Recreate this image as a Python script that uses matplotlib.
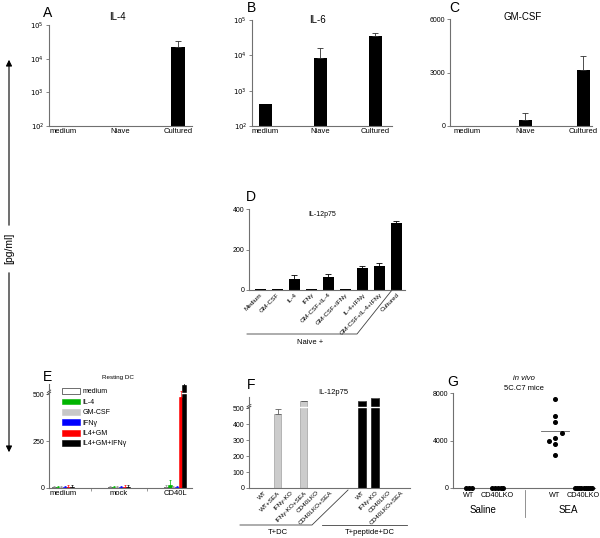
import numpy as np
import matplotlib
matplotlib.use("Agg")
import matplotlib.pyplot as plt
from matplotlib.lines import Line2D
from matplotlib.patches import FancyArrowPatch, Patch

plt.rcParams['font.family'] = ['Liberation Sans', 'DejaVu Sans']

W, H = 600, 538

# ---- data ----
abc_groups = ["medium", "Niave", "Cultured"]
il4_mean = [100, 100, 22000]
il4_upper = [100, 100, 33000]
il6_mean = [420, 8200, 35000]
il6_upper = [420, 16000, 42000]
gmcsf_mean = [20, 340, 3140]
gmcsf_upper = [20, 730, 3930]

d_labels = ["Medium", "GM-CSF", "IL-4", "IFN\u03b3", "GM-CSF+IL-4", "GM-CSF+IFN\u03b3",
            "IL-4+IFN\u03b3", "GM-CSF+IL-4+IFN\u03b3", "Cultured"]
d_mean = [3, 3, 56, 3, 63, 3, 107, 118, 329]
d_upper = [4, 4, 74, 4, 79, 4, 118, 133, 339]

e_groups = ["medium", "mock", "CD40L"]
e_series = ["medium", "IL-4", "GM-CSF", "IFN\u03b3", "IL4+GM", "IL4+GM+IFN\u03b3"]
e_colors = ["white", "#00b400", "#c8c8c8", "#0000ff", "#ff0000", "black"]
e_mean = [[5, 5, 6],
          [5, 5, 16],
          [5, 5, 5],
          [5, 5, 5],
          [6, 6, 485],
          [6, 6, 550]]
e_err = [[8, 8, 8],
         [8, 8, 26],
         [6, 6, 6],
         [6, 6, 6],
         [8, 8, 35],
         [8, 8, 10]]

f_labels = ["WT", "WT+SEA", "IFN\u03b3-KO", "IFN\u03b3-KO+SEA", "CD40LKO", "CD40LKO+SEA",
            "WT", "IFN\u03b3-KO", "CD40LKO", "CD40LKO+SEA"]
f_mean = [0, 462, 0, 543, 0, 0, 543, 562, 0, 0]
f_upper = [0, 493, 0, 548, 0, 0, 546, 565, 0, 0]

g_labels = ["WT", "CD40LKO", "WT", "CD40LKO"]
g_saline_wt = [0, 0, 0]
g_saline_ko = [0, 0, 0, 0, 0]
g_sea_wt = [7470, 6080, 5580, 4600, 4180, 3960, 3740, 2760]
g_sea_ko = [0, 0, 0, 0, 0, 0, 0, 0, 0]

fig = plt.figure(figsize=(W / 100, H / 100), dpi=100)
fig.patch.set_facecolor('white')

SPINE = '#707070'


def fx(x):
    return x / W


def fy(y):
    return 1 - y / H


def add_ax(x0, y0, x1, y1):
    ax = fig.add_axes([fx(x0), fy(y1), (x1 - x0) / W, (y1 - y0) / H])
    for s in ['top', 'right']:
        ax.spines[s].set_visible(False)
    for s in ['left', 'bottom']:
        ax.spines[s].set_color(SPINE)
        ax.spines[s].set_linewidth(0.8)
    ax.tick_params(axis='y', length=2.5, width=0.6, color=SPINE, labelsize=5, pad=1)
    ax.tick_params(axis='x', length=0, labelsize=5.5, pad=1.5)
    ax.set_facecolor('none')
    return ax


def ftext(x, y, s, **kw):
    fig.text(fx(x), fy(y), s, ha=kw.pop('ha', 'center'), va=kw.pop('va', 'center'), **kw)


def fline(xs, ys, **kw):
    fig.add_artist(Line2D([fx(v) for v in xs], [fy(v) for v in ys],
                          color=kw.pop('color', '#404040'), lw=kw.pop('lw', 0.6), **kw))


def err_up(ax, x, mean, upper, color='black'):
    mean = np.asarray(mean, float)
    upper = np.asarray(upper, float)
    keep = upper > mean
    if keep.any():
        ax.errorbar(np.asarray(x)[keep], mean[keep],
                    yerr=[np.zeros(keep.sum()), (upper - mean)[keep]],
                    fmt='none', ecolor=color, elinewidth=0.6, capsize=2, capthick=0.6)


def break_marks(ax, yval, bars_x, width, ymax):
    # white gap across tall bars and slashes on the y axis
    frac = yval / ymax
    ax.plot([-0.012, 0.012], [frac - 0.012, frac + 0.012], transform=ax.transAxes,
            color='#404040', lw=0.6, clip_on=False)
    ax.plot([-0.012, 0.012], [frac + 0.008, frac + 0.032], transform=ax.transAxes,
            color='#404040', lw=0.6, clip_on=False)
    for bx in bars_x:
        ax.plot([bx - width / 2, bx + width / 2], [yval, yval], color='white', lw=1.0)


# ---- A: IL-4 ----
x3 = np.arange(3)
log_ticks = [1e2, 1e3, 1e4, 1e5]
log_lbls = ['$10^2$', '$10^3$', '$10^4$', '$10^5$']


def log_panel(ax, mean, upper):
    ax.set_yscale('log')
    ax.set_ylim(1e2, 1e5)
    h = np.asarray(mean, float) - 100
    ax.bar(x3, h, bottom=100, width=0.24, color='black')
    err_up(ax, x3, mean, upper, color='#303030')
    ax.set_yticks(log_ticks)
    ax.set_yticklabels(log_lbls)
    ax.minorticks_off()
    ax.set_xticks(x3)
    ax.set_xticklabels(abc_groups)


axA = add_ax(49, 25, 192, 126)
log_panel(axA, il4_mean, il4_upper)
axA.set_xlim(-0.25, 2.25)
ftext(117, 17, "IL-4", fontsize=7)
ftext(48, 13, "A", fontsize=10)

axB = add_ax(252, 20, 392, 126)
log_panel(axB, il6_mean, il6_upper)
axB.set_xlim(-0.24, 2.3)
ftext(318, 20, "IL-6", fontsize=7)
ftext(252, 8, "B", fontsize=10)

axC = add_ax(450, 19, 592, 126)
axC.bar(x3, gmcsf_mean, width=0.23, color='black')
err_up(axC, x3, gmcsf_mean, gmcsf_upper, color='#303030')
axC.set_ylim(0, 6000)
axC.set_yticks([0, 3000, 6000])
axC.set_xticks(x3)
axC.set_xticklabels(abc_groups)
axC.set_xlim(-0.3, 2.15)
ftext(523, 17, "GM-CSF", fontsize=7)
ftext(454, 8, "C", fontsize=10)

# ---- D: IL-12p75 naive ----
xd = np.arange(len(d_labels))
axD = add_ax(249, 209, 405, 290)
axD.bar(xd, d_mean, width=0.65, color='black')
err_up(axD, xd, d_mean, d_upper)
axD.set_ylim(0, 400)
axD.set_yticks([0, 200, 400])
axD.set_xlim(-0.65, 8.5)
axD.set_xticks(xd)
axD.set_xticklabels(d_labels, rotation=45, ha='right', rotation_mode='anchor', fontsize=4.6)
ftext(322, 214, "IL-12p75", fontsize=5)
ftext(251, 197, "D", fontsize=10)
fline([247, 357, 392], [334, 334, 290])
ftext(310, 342, "Naive +", fontsize=5.5)

# ---- E: resting DC ----
axE = add_ax(49, 384, 192, 488)
n_s = len(e_series)
bw = 0.39 / n_s
for i in range(n_s):
    xs = np.arange(3) + (i - (n_s - 1) / 2) * bw
    ec = 'black' if i == 0 else e_colors[i]
    axE.bar(xs, e_mean[i], width=bw, color=e_colors[i], edgecolor=ec, linewidth=0.4,
            label=e_series[i])
    ecol = '#909090' if i in (0, 2) else e_colors[i]
    axE.errorbar(xs, e_mean[i], yerr=[np.zeros(3), e_err[i]], fmt='none',
                 ecolor=ecol, elinewidth=0.5, capsize=1, capthick=0.5)
axE.set_ylim(0, 555)
axE.set_yticks([0, 250, 500])
axE.set_xlim(-0.25, 2.3)
axE.set_xticks(np.arange(3))
axE.set_xticklabels(e_groups)
axE.set_xticks([0.5, 1.5], minor=True)
axE.tick_params(axis='x', which='minor', length=2, width=0.5, color=SPINE)
break_marks(axE, 505, [2 + 2.5 * bw], bw, 555)
leg = axE.legend(loc='upper left', bbox_to_anchor=(0.06, 1.0), frameon=False,
                 fontsize=5, handlelength=2.6, handleheight=0.9, labelspacing=0.45,
                 handletextpad=0.4, borderaxespad=0.2)
ftext(118, 378, "Resting DC", fontsize=4.5)
ftext(48, 377, "E", fontsize=10)

# ---- F: IL-12p75 T cell + DC ----
xf = np.concatenate([np.arange(6), 7.5 + np.arange(4)])
f_colors = ['#cccccc'] * 6 + ['black'] * 4
axF = add_ax(249, 397, 410, 488)
axF.bar(xf, f_mean, width=0.6, color=f_colors, edgecolor=['#909090'] * 6 + ['black'] * 4,
        linewidth=0.4)
err_up(axF, xf, f_mean, f_upper, color='#606060')
axF.set_ylim(0, 570)
axF.set_yticks([0, 100, 200, 300, 400, 500])
axF.set_xlim(-1.2, 11.2)
axF.set_xticks(xf)
axF.set_xticklabels(f_labels, rotation=45, ha='right', rotation_mode='anchor', fontsize=4.6)
tall = [x for x, v in zip(xf, f_mean) if v > 505]
break_marks(axF, 505, tall, 0.6, 570)
ftext(333, 393, "IL-12p75", fontsize=5.5)
ftext(251, 385, "F", fontsize=10)
fline([240, 312, 348], [525, 525, 490])
fline([322, 407], [525, 525])
ftext(278, 533, "T+DC", fontsize=5.5)
ftext(370, 533, "T+peptide+DC", fontsize=5.5)

# ---- G: in vivo ----
axG = add_ax(453, 393, 595, 488)
g_groups = [g_saline_wt, g_saline_ko, g_sea_wt, g_sea_ko]
g_pos = [0, 1, 3, 4]
sea_dx = [0, 0, 0, 0.25, 0, -0.2, 0, 0]
for pos, vals in zip(g_pos, g_groups):
    vals = np.asarray(vals, float)
    if np.all(vals == 0):
        spread = min(0.6, 0.08 * len(vals))
        xs = pos + np.linspace(-spread / 2, spread / 2, len(vals))
    else:
        xs = pos + np.asarray(sea_dx)
        m = vals.mean()
        axG.plot([pos - 0.5, pos + 0.5], [m, m], color='#606060', lw=0.6)
    axG.plot(xs, vals, 'o', color='black', ms=2.6, clip_on=False, zorder=3)
axG.set_ylim(0, 8000)
axG.set_yticks([0, 4000, 8000])
axG.set_xlim(-0.56, 4.4)
axG.set_xticks(g_pos)
axG.set_xticklabels(g_labels, fontsize=5.2)
axG.tick_params(axis='x', pad=3)
fline([525, 525], [490, 517], color='#808080')
ftext(483, 510, "Saline", fontsize=7)
ftext(568, 510, "SEA", fontsize=7)
ftext(524, 378, "in vivo", fontsize=5.5, style='italic')
ftext(524, 389, "5C.C7 mice", fontsize=5.5)
ftext(453, 382, "G", fontsize=10)

# ---- shared y label with arrows ----
ftext(9, 248, "[pg/ml]", fontsize=7.5, rotation=90)
fig.add_artist(FancyArrowPatch((fx(9), fy(228)), (fx(9), fy(57)), transform=fig.transFigure,
                               arrowstyle='-|>', mutation_scale=9, color='black', lw=0.8))
fig.add_artist(FancyArrowPatch((fx(9), fy(270)), (fx(9), fy(455)), transform=fig.transFigure,
                               arrowstyle='-|>', mutation_scale=9, color='black', lw=0.8))

plt.savefig("out.png", dpi=100, facecolor='white')
